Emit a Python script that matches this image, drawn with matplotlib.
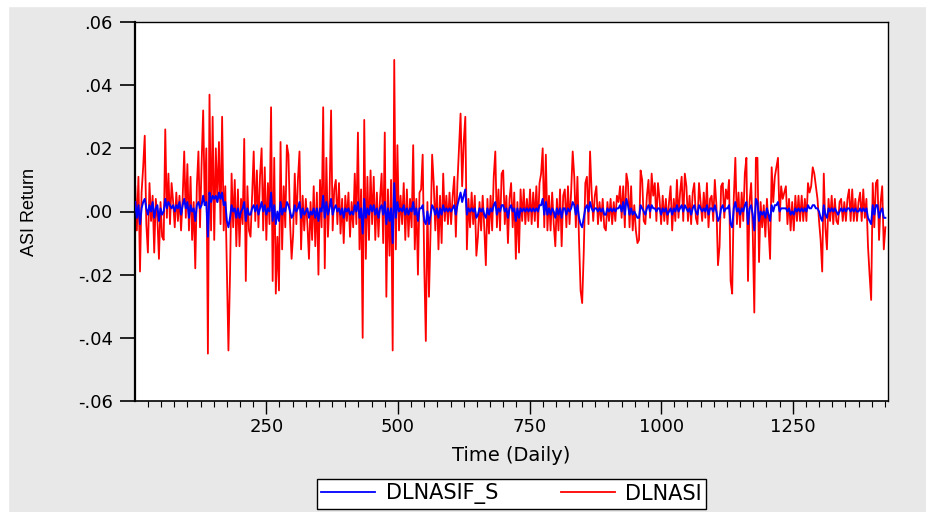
"""DLNASIF_S 与 DLNASI 日收益率对比图（EViews 风格）。"""

import matplotlib.pyplot as plt
import numpy as np
from matplotlib.patches import Rectangle
from matplotlib.ticker import FuncFormatter, MultipleLocator

# 数值单位为 0.001（千分之一），每 3 个交易日取一个读数
STEP_DAYS = 3
dlnasi_milli = [
    8, -6, 11, -19, 6, 14, 24, -4, -13, 9, -3, 5, -13, 4, -2, -15, 3, -8, -9, 26, -2, 12, -4, 9, 3,
    -5, 6, -3, 5, -6, 4, 19, -2, 15, -6, 11, -9, 3, -18, 8, 19, -5, 15, 32, 2, 20, -45, 37, -6, 30,
    -9, 20, 3, 22, -4, 30, -6, 8, -18, -44, -20, 12, -5, 10, -11, 7, -11, 4, -4, 23, -22, 8, -6, -8, 5,
    19, -3, 13, -5, 11, 20, -6, 14, -9, 9, -4, 33, -22, 17, -26, -8, -25, 22, -12, 8, -5, 21, 18, -3, -15,
    -7, 12, -4, 10, 19, -12, 5, -6, 4, -4, -15, 3, -9, 8, -11, 6, -20, 10, -5, 33, -18, 17, -8, 4, 32,
    -6, 7, 10, -4, 9, -7, 4, -10, 5, -3, 6, -8, 3, -5, 12, -4, 25, -12, 7, -40, 29, -15, 11, -9, 13,
    -4, 11, -9, 6, -8, 4, 12, -10, 25, -27, 7, -14, 10, -44, 48, -12, 21, -6, 5, -4, 9, -9, 7, -8, 4,
    -5, 21, -12, 4, -20, 6, 7, 18, -17, -41, 3, -27, -6, 18, 9, -6, 8, -12, 5, -10, 12, -3, 5, -4, 6,
    -4, 5, 11, -8, 9, 20, 31, 8, 22, 30, -12, 4, -5, 6, -4, 5, -14, -8, 3, -6, 5, -5, -17, 4, -7,
    5, -6, 11, 19, -5, 7, -6, 12, 13, -4, 5, -10, 4, 9, -5, 6, -15, 3, -13, 7, -3, 7, -4, 4, -3,
    7, -4, 6, -3, 8, -5, 9, 12, 20, -5, 18, -6, 5, -6, 6, -4, -11, 4, -6, 7, -11, 5, 7, -5, 8,
    -4, 6, 19, 11, -5, 11, -9, -25, -29, -13, 9, 11, -4, 19, 6, -3, 5, 8, -4, 3, -3, 4, -5, -6, 3,
    -3, 4, -4, 3, -3, 5, 3, 8, -2, 8, -5, 12, 9, -5, 8, -6, 2, -6, -10, -9, 13, 10, -3, -4, 5,
    10, -2, 12, 5, 9, -3, 9, 4, -4, 5, -3, 4, -4, 3, 8, -6, 4, -3, 10, -2, 6, 11, -3, 12, 8,
    -3, 5, -4, 6, 9, -2, -4, 9, 3, -3, 6, -2, 9, -5, 4, 5, -3, 10, 2, -17, -11, 8, 9, -2, 7,
    4, 10, -22, -26, 4, 17, -4, 6, -5, 6, -3, 12, 17, -22, 3, 9, -6, -32, 17, 17, -16, 3, -5, 2, -8,
    4, -5, -15, 14, 3, 11, 14, 17, -3, 8, 4, 6, 8, -4, 4, -6, 3, -6, 5, -3, 5, -3, 5, -3, 4,
    -3, 9, 6, 8, 14, 12, 8, 4, -3, -9, -19, 12, -5, -12, 4, -3, 5, -4, 4, -3, -4, 3, 4, -3, 3,
    -3, 4, 7, -3, 7, -3, 4, -3, 3, 6, -3, 7, -2, 4, -11, -20, -28, 9, -5, 9, 10, -9, 3, 8, -12,
    -5,
]
dlnasif_s_milli = [
    3, -2, 2, -4, 1, 3, 4, 1, -1, 2, 0, 3, -2, 1, 2, -3, 1, -1, 0, 4, 1, 3, 2, 1, 2,
    0, 2, 1, 3, -1, 2, 4, 1, 3, -2, 2, 0, 1, -3, 2, 3, 1, 2, 5, 2, 3, -8, 6, 3, 5,
    4, 5, 3, 6, 4, 6, 2, 3, -3, -5, -2, 2, 0, 1, -2, 1, -2, 0, 1, 3, -3, 1, -1, -1, 1,
    2, 0, 2, -1, 1, 3, 0, 2, -1, 1, 0, 6, -3, 2, -4, 0, -3, 3, -1, 1, 0, 3, 2, 0, -2,
    -1, 2, 0, 1, 3, -2, 1, -1, 0, 1, -2, 0, -1, 1, -2, 1, -3, 1, 0, 5, -2, 3, -1, 1, 4,
    -1, 1, 2, 0, 1, -1, 1, -2, 1, 0, 1, -1, 0, -1, 2, 0, 3, -2, 1, -7, 4, -2, 1, -1, 2,
    0, 2, -1, 1, -2, 1, 2, -1, 3, -4, 1, -3, 1, -10, 9, -2, 3, 0, 1, 0, 2, -1, 1, -1, 1,
    0, 3, -1, 1, -3, 1, 1, 2, -3, -4, 0, -4, -1, 2, 1, -1, 1, -2, 1, -1, 2, 0, 1, 0, 1,
    0, 1, 2, -1, 2, 4, 6, 3, 5, 7, -1, 1, 0, 1, 0, 1, -2, -1, 1, 0, 1, -1, -2, 1, -1,
    1, 0, 2, 3, -1, 1, 0, 2, 2, 0, 1, -2, 1, 2, 0, 1, -3, 1, -2, 1, 0, 1, 0, 1, 0,
    1, 0, 1, 0, 1, 0, 2, 2, 4, -1, 3, -1, 1, -1, 1, 0, -2, 1, -1, 1, -2, 1, 1, -1, 1,
    0, 1, 3, 2, -1, 2, -2, -4, -5, -2, 1, 2, 0, 3, 1, 0, 1, 1, 0, 1, 0, 1, -1, -1, 1,
    0, 1, 0, 1, 0, 1, 1, 2, 0, 3, -1, 4, 2, -1, 1, -1, 0, -1, -2, -2, 2, 1, 0, -1, 1,
    2, 0, 2, 1, 1, 0, 1, 1, -1, 1, 0, 1, -1, 0, 1, -1, 1, 0, 2, 0, 1, 2, 0, 2, 1,
    0, 1, -1, 1, 2, 0, -1, 2, 1, 0, 1, 0, 2, -1, 1, 1, 0, 2, 0, -3, -2, 1, 2, 0, 1,
    1, 2, -4, -5, 1, 3, 0, 1, -1, 1, 0, 2, 3, -4, 1, 2, -1, -6, 4, 3, -3, 0, -1, 0, -2,
    1, -1, -3, 2, 0, 2, 2, 3, 0, 1, 1, 1, 1, 0, 1, -1, 0, -1, 1, 0, 1, 0, 1, 0, 1,
    0, 2, 1, 1, 2, 2, 1, 1, 0, -2, -3, 2, -1, -2, 1, 0, 1, 0, 1, 0, -1, 0, 1, 0, 1,
    0, 1, 1, 0, 1, 0, 1, 0, 0, 1, 0, 1, 0, 1, -2, -3, -4, 2, -1, 2, 2, -2, 0, 1, -2,
    -2,
]
y_ticks = [-0.06, -0.04, -0.02, 0.00, 0.02, 0.04, 0.06]
x_major = [250, 500, 750, 1000, 1250]

W, H = 926, 512
BG = "#e8e8e8"


def eviews_label(value, _pos):
    # EViews 去掉前导零：0.02 -> .02
    text = f"{value:.2f}"
    return text.replace("0.", ".", 1)


def main() -> None:
    plt.rcParams["font.family"] = ["DejaVu Sans"]

    fig = plt.figure(figsize=(W / 100, H / 100), dpi=100, facecolor=BG)
    # 左侧与顶部的白边
    fig.patches.append(Rectangle((0, 0), 8 / W, 1, transform=fig.transFigure, color="white", zorder=0))
    fig.patches.append(Rectangle((0, 1 - 6 / H), 1, 6 / H, transform=fig.transFigure, color="white", zorder=0))

    ax = fig.add_axes([135 / W, 1 - 401 / H, 753 / W, 379 / H])
    ax.set_facecolor("white")

    red = np.array(dlnasi_milli) / 1000.0
    blue = np.array(dlnasif_s_milli) / 1000.0
    days_red = 1 + STEP_DAYS * np.arange(len(red))
    days_blue = 1 + STEP_DAYS * np.arange(len(blue))

    ax.plot(days_red, red, color="#ff0000", lw=1.3, label="DLNASI", zorder=2)
    ax.plot(days_blue, blue, color="#0000ff", lw=1.4, label="DLNASIF_S", zorder=3)

    ax.set_xlim(0.5, 1431)
    ax.set_ylim(-0.06, 0.06)
    ax.set_yticks(y_ticks)
    ax.yaxis.set_major_formatter(FuncFormatter(eviews_label))
    ax.set_xticks(x_major)
    ax.xaxis.set_minor_locator(MultipleLocator(25))

    ax.tick_params(axis="y", direction="out", length=11, width=1.2, pad=5, labelsize=13, colors="black")
    ax.tick_params(axis="x", which="major", direction="out", length=9, width=1, pad=3, labelsize=13)
    ax.tick_params(axis="x", which="minor", direction="out", length=4, width=0.8)
    ax.tick_params(top=False, right=False)

    for side, lw in {"left": 1.6, "bottom": 1.2, "top": 1.0, "right": 1.0}.items():
        ax.spines[side].set_linewidth(lw)
        ax.spines[side].set_color("black")

    ax.set_xlabel("Time (Daily)", fontsize=14)
    ax.xaxis.set_label_coords(0.5, -0.118)
    ax.set_ylabel("ASI Return", fontsize=13, family=["Liberation Sans", "DejaVu Sans"])
    ax.yaxis.set_label_coords(-0.129, 0.5)

    handles, labels = ax.get_legend_handles_labels()
    order = [1, 0]
    leg = fig.legend(
        [handles[i] for i in order],
        [labels[i] for i in order],
        loc="center",
        bbox_to_anchor=(511.5 / W, 1 - 494 / H),
        ncol=2,
        fontsize=15,
        frameon=True,
        fancybox=False,
        framealpha=1.0,
        facecolor="white",
        edgecolor="black",
        handlelength=2.6,
        handletextpad=0.5,
        columnspacing=3.0,
        borderpad=0.2,
        borderaxespad=0,
    )
    leg.get_frame().set_linewidth(1.0)
    for line in leg.get_lines():
        line.set_linewidth(1.3)

    fig.savefig("out.png", dpi=100, facecolor=BG)
    plt.close(fig)


if __name__ == "__main__":
    main()
